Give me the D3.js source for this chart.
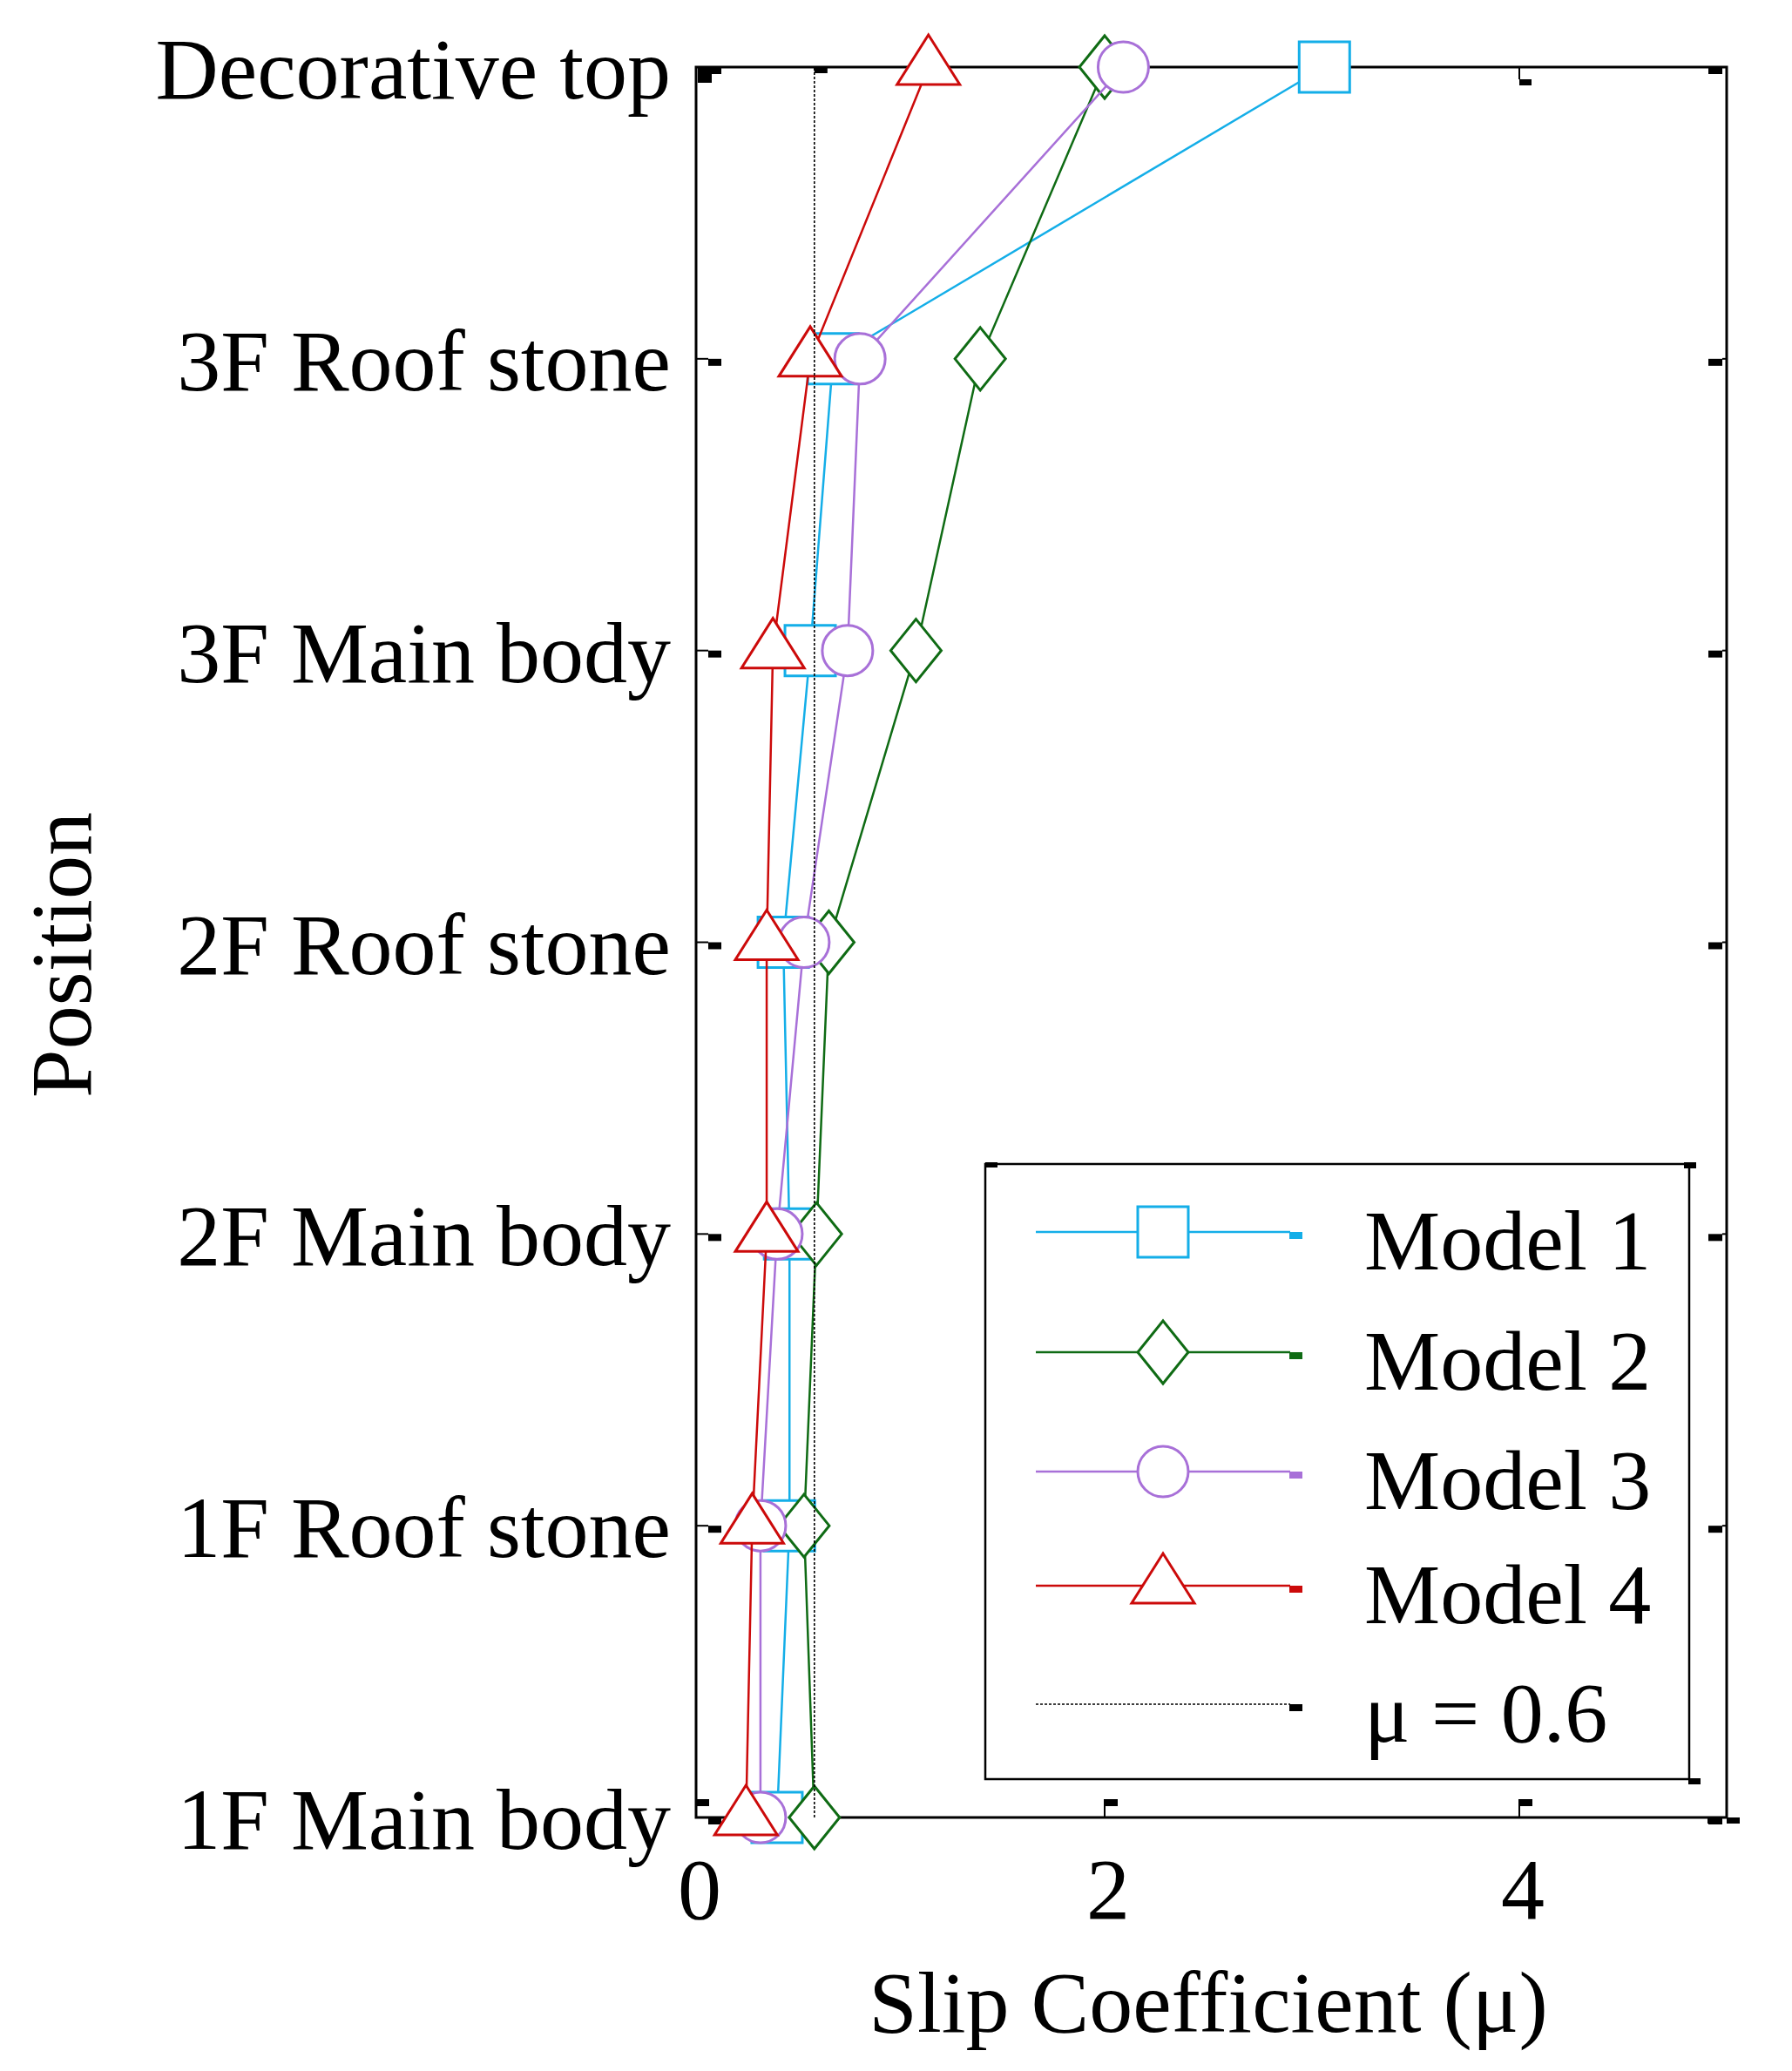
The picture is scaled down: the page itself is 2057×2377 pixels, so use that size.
<!DOCTYPE html>
<html>
<head>
<meta charset="utf-8">
<script src="https://cdn.jsdelivr.net/npm/d3@7"></script>
<style>
  body { margin: 0; background: #fff; }
  text { font-family: "Liberation Serif", "Times New Roman", serif; fill: #000; }
</style>
</head>
<body>
<div id="chart"></div>
<script>
// positions from top of the tower to the bottom
var positions = ["Decorative top", "3F Roof stone", "3F Main body", "2F Roof stone",
                 "2F Main body", "1F Roof stone", "1F Main body"];

// slip coefficient, same order as positions
var model1 = [3.06, 0.69, 0.58, 0.45, 0.48, 0.48, 0.42];
var model2 = [2.00, 1.40, 1.09, 0.67, 0.61, 0.55, 0.60];
var model3 = [2.09, 0.82, 0.76, 0.55, 0.42, 0.34, 0.34];
var model4 = [1.15, 0.58, 0.40, 0.37, 0.37, 0.30, 0.27];

var seriesNames = ["Model 1", "Model 2", "Model 3", "Model 4"];
var muValue = 0.6;
var muLabel = "\u03bc = 0.6";
var xTicks = [0, 2, 4];

var colors = ["#14aee8", "#0f6b14", "#a870d8", "#cc0a0a"];
var shapes = ["square", "diamond", "circle", "triangle"];

var svgWidth = 2057, svgHeight = 2377;
var plot = { left: 799, right: 1982, top: 77, bottom: 2086 };

var svg = d3.select("#chart").append("svg")
    .attr("width", svgWidth)
    .attr("height", svgHeight);

// the exported frame sits a few pixels right of x = 0
var xScale = d3.scaleLinear().domain([0, 5]).range([792, plot.right]);
var yScale = d3.scalePoint().domain(positions).range([plot.top, plot.bottom]);

// marker outlines, sized like the original
function markerPath(shape) {
    if (shape === "square") return "M-29,-29H29V29H-29Z";
    if (shape === "diamond") return "M0,-36L29,0L0,36L-29,0Z";
    if (shape === "triangle") return "M0,-37L36,20L-36,20Z";
    return d3.arc()({ innerRadius: 0, outerRadius: 29, startAngle: 0, endAngle: 2 * Math.PI });
}

// frame
svg.append("rect")
    .attr("x", plot.left).attr("y", plot.top)
    .attr("width", plot.right - plot.left).attr("height", plot.bottom - plot.top)
    .attr("fill", "none").attr("stroke", "#000").attr("stroke-width", 3);

// ticks (inward, with the little blocks the export leaves)
var tickG = svg.append("g").attr("fill", "#000");
positions.forEach(function(p) {
    var y = yScale(p);
    tickG.append("line").attr("x1", plot.left).attr("x2", plot.left + 14)
        .attr("y1", y).attr("y2", y).attr("stroke", "#000").attr("stroke-width", 2);
    tickG.append("rect").attr("x", plot.left + 14).attr("y", y).attr("width", 15).attr("height", 8);
    tickG.append("line").attr("x1", plot.right - 5).attr("x2", plot.right)
        .attr("y1", y).attr("y2", y).attr("stroke", "#000").attr("stroke-width", 2);
    tickG.append("rect").attr("x", plot.right - 21).attr("y", y).attr("width", 16).attr("height", 8);
});
xTicks.forEach(function(t) {
    var x = Math.max(xScale(t), plot.left);
    tickG.append("line").attr("x1", x).attr("x2", x)
        .attr("y1", plot.bottom).attr("y2", plot.bottom - 21).attr("stroke", "#000").attr("stroke-width", 2);
    tickG.append("rect").attr("x", x).attr("y", plot.bottom - 21).attr("width", 15).attr("height", 8);
    if (t > 0) {
        tickG.append("line").attr("x1", x).attr("x2", x)
            .attr("y1", plot.top).attr("y2", plot.top + 14).attr("stroke", "#000").attr("stroke-width", 2);
        tickG.append("rect").attr("x", x).attr("y", plot.top + 14).attr("width", 14).attr("height", 7);
    }
});
tickG.append("rect").attr("x", plot.left + 2).attr("y", plot.top).attr("width", 16).attr("height", 18);
tickG.append("rect").attr("x", plot.right - 22).attr("y", plot.bottom).attr("width", 15).attr("height", 7);
tickG.append("rect").attr("x", plot.right).attr("y", plot.bottom).attr("width", 15).attr("height", 7);

// tick labels
svg.append("g").selectAll("text")
    .data(positions).enter().append("text")
    .attr("x", plot.left - 29)
    .attr("y", d => yScale(d) + 36)
    .attr("text-anchor", "end")
    .attr("font-size", 100)
    .text(d => d);

svg.append("g").selectAll("text")
    .data(xTicks).enter().append("text")
    .attr("x", d => Math.max(xScale(d), plot.left) + 4)
    .attr("y", 2202)
    .attr("text-anchor", "middle")
    .attr("font-size", 100)
    .text(d => d);

// axis titles
svg.append("text")
    .attr("x", 1387)
    .attr("y", 2332)
    .attr("text-anchor", "middle")
    .attr("font-size", 100)
    .text("Slip Coefficient (\u03bc)");

svg.append("text")
    .attr("transform", "translate(104," + 1096 + ") rotate(-90)")
    .attr("text-anchor", "middle")
    .attr("font-size", 100)
    .text("Position");

// series
var allSeries = [model1, model2, model3, model4];
var line = d3.line()
    .x(d => xScale(d.value))
    .y(d => yScale(d.pos));

allSeries.forEach(function(values, i) {
    var pts = values.map(function(v, j) { return { pos: positions[j], value: v }; });
    var g = svg.append("g");
    g.append("path")
        .datum(pts)
        .attr("d", line)
        .attr("fill", "none")
        .attr("stroke", colors[i])
        .attr("stroke-width", 2.5);
    g.selectAll("path.mark")
        .data(pts).enter().append("path")
        .attr("class", "mark")
        .attr("d", markerPath(shapes[i]))
        .attr("transform", d => "translate(" + xScale(d.value) + "," + yScale(d.pos) + ")")
        .attr("fill", "#fff")
        .attr("stroke", colors[i])
        .attr("stroke-width", 3);
});

// mu reference line
svg.append("line")
    .attr("x1", xScale(muValue)).attr("x2", xScale(muValue))
    .attr("y1", plot.bottom).attr("y2", plot.top)
    .attr("stroke", "#000")
    .attr("stroke-width", 1.6)
    .attr("stroke-dasharray", "3,2");
svg.append("rect")
    .attr("x", xScale(muValue)).attr("y", plot.top)
    .attr("width", 15).attr("height", 7).attr("fill", "#000");

// legend
var legend = { left: 1131, right: 1939, top: 1336, bottom: 2042 };
var legG = svg.append("g");
legG.append("rect")
    .attr("x", legend.left).attr("y", legend.top)
    .attr("width", legend.right - legend.left).attr("height", legend.bottom - legend.top)
    .attr("fill", "#fff").attr("stroke", "#000").attr("stroke-width", 2.5);
legG.append("rect").attr("x", legend.left).attr("y", legend.top - 2).attr("width", 14).attr("height", 6).attr("fill", "#000");
legG.append("rect").attr("x", legend.right - 6).attr("y", legend.top - 2).attr("width", 14).attr("height", 7).attr("fill", "#000");
legG.append("rect").attr("x", legend.right - 1).attr("y", legend.bottom - 1).attr("width", 14).attr("height", 7).attr("fill", "#000");

var legendRows = [1414, 1552, 1689, 1820, 1956];
var legendItems = seriesNames.map(function(n, i) { return { name: n, color: colors[i], shape: shapes[i], dashed: false }; });
legendItems.push({ name: muLabel, color: "#000", shape: null, dashed: true });

legendItems.forEach(function(item, i) {
    var y = legendRows[i];
    legG.append("line")
        .attr("x1", 1189).attr("x2", 1481)
        .attr("y1", y).attr("y2", y)
        .attr("stroke", item.color)
        .attr("stroke-width", item.dashed ? 1.6 : 2.5)
        .attr("stroke-dasharray", item.dashed ? "3,2" : null);
    legG.append("rect")
        .attr("x", 1480).attr("y", y).attr("width", 15).attr("height", 8)
        .attr("fill", item.color);
    if (item.shape) {
        legG.append("path")
            .attr("d", markerPath(item.shape))
            .attr("transform", "translate(1335," + y + ")")
            .attr("fill", "#fff")
            .attr("stroke", item.color)
            .attr("stroke-width", 3);
    }
    legG.append("text")
        .attr("x", 1566)
        .attr("y", y + 43)
        .attr("font-size", 98)
        .text(item.name);
});
</script>
</body>
</html>
